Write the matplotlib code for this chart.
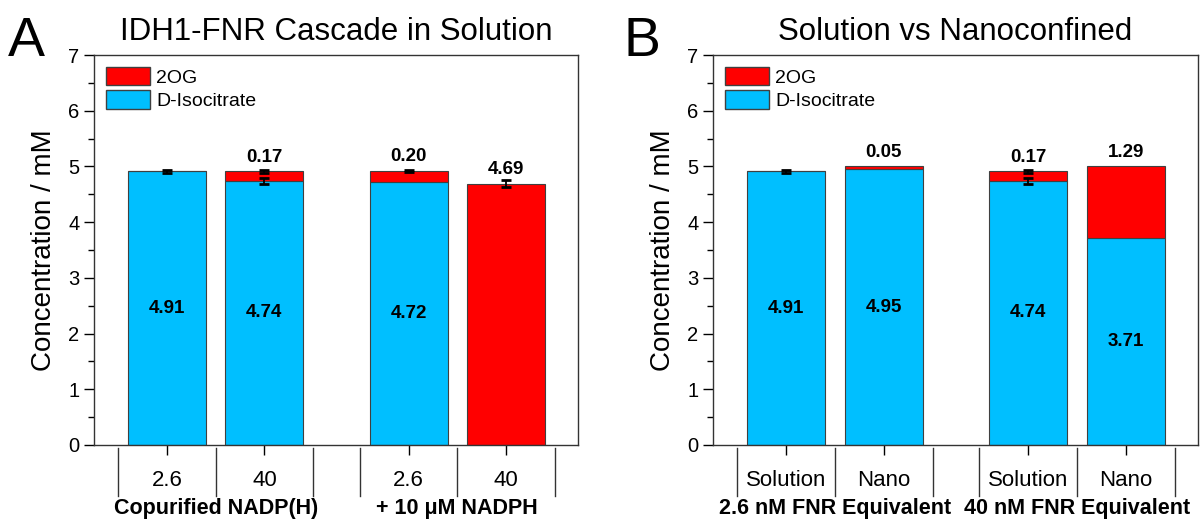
import matplotlib
matplotlib.use("Agg")
import matplotlib.pyplot as plt
from matplotlib.patches import Patch

plt.rcParams['font.family'] = ['Liberation Sans', 'DejaVu Sans']

# ---- data ----
titles = ["IDH1-FNR Cascade in Solution", "Solution vs Nanoconfined"]
panel_letters = ["A", "B"]
cat_labels_A = ["2.6", "40", "2.6", "40"]
cat_labels_B = ["Solution", "Nano", "Solution", "Nano"]
group_labels_A = ["Copurified NADP(H)", "+ 10 \u03bcM NADPH"]
group_labels_B = ["2.6 nM FNR Equivalent", "40 nM FNR Equivalent"]

iso_A = [4.91, 4.74, 4.72, 0.0]
og_A = [0.0, 0.17, 0.20, 4.69]
iso_err_A = [0.02, 0.05, 0.0, 0.0]
top_err_A = [0.0, 0.03, 0.02, 0.06]
iso_lbl_A = ["4.91", "4.74", "4.72", None]
og_lbl_A = [None, "0.17", "0.20", "4.69"]

iso_B = [4.91, 4.95, 4.74, 3.71]
og_B = [0.0, 0.05, 0.17, 1.29]
iso_err_B = [0.02, 0.0, 0.05, 0.0]
top_err_B = [0.0, 0.0, 0.03, 0.0]
iso_lbl_B = ["4.91", "4.95", "4.74", "3.71"]
og_lbl_B = [None, "0.05", "0.17", "1.29"]

positions = [1.0, 2.0, 3.48, 4.48]
RED = "#FF0000"
BLUE = "#00BFFF"
EDGE = "#404040"

fig = plt.figure(figsize=(12.01, 5.22), dpi=100)
axA = fig.add_axes([94/1201, 1-445/522, 484/1201, 390/522])
axB = fig.add_axes([713/1201, 1-445/522, 485/1201, 390/522])


def draw(ax, iso, og, iso_err, top_err, iso_lbl, og_lbl, cats, groups, title, letter, letter_x):
    w = 0.8
    ax.bar(positions, iso, width=w, color=BLUE, edgecolor=EDGE, linewidth=0.8, zorder=2)
    ax.bar(positions, og, width=w, bottom=iso, color=RED, edgecolor=EDGE, linewidth=0.8, zorder=2)
    for x, b, e in zip(positions, iso, iso_err):
        if e > 0:
            ax.errorbar(x, b, yerr=e, color='black', capsize=3.5, capthick=2, elinewidth=1.3, zorder=3)
    for x, b, t, e in zip(positions, iso, og, top_err):
        if e > 0:
            ax.errorbar(x, b + t, yerr=e, color='black', capsize=3.5, capthick=2, elinewidth=1.3, zorder=3)
    for x, b, l in zip(positions, iso, iso_lbl):
        if l:
            ax.text(x, b / 2, l, ha='center', va='center', fontsize=13.5, fontweight='bold', zorder=4)
    for x, b, t, l in zip(positions, iso, og, og_lbl):
        if l:
            ax.text(x, b + t + 0.1, l, ha='center', va='bottom', fontsize=13.5, fontweight='bold', zorder=4)

    ax.set_xlim(0.25, 5.22)
    ax.set_ylim(0, 7)
    ax.set_yticks(range(0, 8))
    ax.set_yticks([i + 0.5 for i in range(7)], minor=True)
    ax.tick_params(axis='y', which='major', direction='out', length=7, width=1, labelsize=14.5)
    ax.tick_params(axis='y', which='minor', direction='out', length=4, width=1)
    ax.set_xticks(positions)
    ax.set_xticklabels(cats)
    ax.tick_params(axis='x', which='major', direction='out', length=7, width=1, labelsize=16, pad=11)
    for s in ax.spines.values():
        s.set_linewidth(1.0)
        s.set_color('#333333')
    ax.set_ylabel("Concentration / mM", fontsize=20, labelpad=8)
    ax.set_title(title, fontsize=22.5, pad=11)
    tr = ax.get_xaxis_transform()
    for g in range(2):
        p0, p1 = positions[2 * g], positions[2 * g + 1]
        for xb in [p0 - 0.5, (p0 + p1) / 2, p1 + 0.5]:
            ax.plot([xb, xb], [-0.008, -0.13], transform=tr, color='#333333', lw=1.0, clip_on=False)
        ax.text((p0 + p1) / 2, -0.162, groups[g], transform=tr, ha='center', va='center',
                fontsize=15.5, fontweight='bold')
    handles = [Patch(facecolor=RED, edgecolor=EDGE, label='2OG'),
               Patch(facecolor=BLUE, edgecolor=EDGE, label='D-Isocitrate')]
    ax.legend(handles=handles, loc='upper left', frameon=False, fontsize=14,
              handlelength=2.3, handleheight=1.1, labelspacing=0.2, handletextpad=0.3,
              borderaxespad=0.3, borderpad=0.3)
    fig.text(letter_x, 1 - 42/522, letter, fontsize=40, ha='left', va='center')


draw(axA, iso_A, og_A, iso_err_A, top_err_A, iso_lbl_A, og_lbl_A, cat_labels_A, group_labels_A,
     titles[0], panel_letters[0], 8/1201)
draw(axB, iso_B, og_B, iso_err_B, top_err_B, iso_lbl_B, og_lbl_B, cat_labels_B, group_labels_B,
     titles[1], panel_letters[1], 624/1201)

fig.savefig("out.png", dpi=100)
